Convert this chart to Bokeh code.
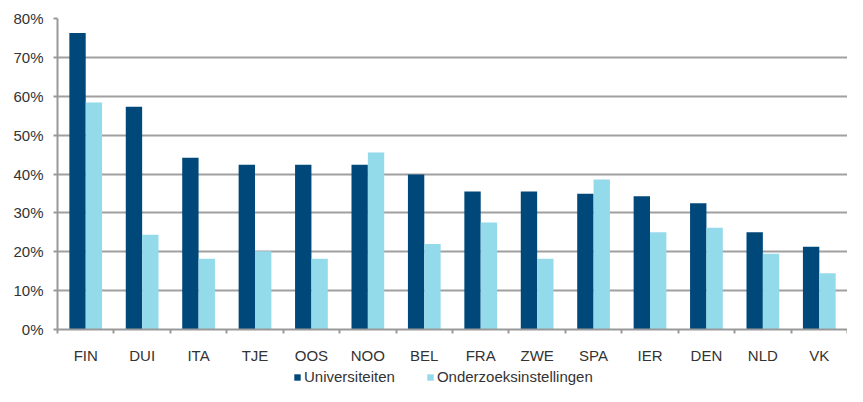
from bokeh.plotting import figure
from bokeh.layouts import column
from bokeh.models import FixedTicker, Legend, LegendItem, Range1d
from bokeh.embed import file_html
from bokeh.resources import INLINE

categories = ["FIN", "DUI", "ITA", "TJE", "OOS", "NOO", "BEL", "FRA", "ZWE", "SPA", "IER", "DEN", "NLD", "VK"]
universiteiten = [76.3, 57.3, 44.2, 42.4, 42.4, 42.4, 39.9, 35.5, 35.5, 34.9, 34.3, 32.5, 25.0, 21.3]
onderzoek = [58.4, 24.4, 18.2, 20.1, 18.2, 45.5, 22.0, 27.5, 18.2, 38.6, 25.0, 26.2, 19.5, 14.5]
y_ticks = [0, 10, 20, 30, 40, 50, 60, 70, 80]
series_names = ["Universiteiten", "Onderzoeksinstellingen"]

DARK = "#00487A"
LIGHT = "#93DAEA"
FONT = "Liberation Sans"
TXT = "#333333"

n = len(categories)
w = 0.29
centers = [i + 0.5 for i in range(n)]
x_u = [c - w / 2 for c in centers]
x_o = [c + w / 2 for c in centers]

p = figure(width=847, height=366, output_backend="svg", toolbar_location=None,
           x_range=Range1d(0, n), y_range=Range1d(0, 80),
           min_border_left=57, min_border_right=0, min_border_top=18, min_border_bottom=31)
p.outline_line_color = None
p.background_fill_color = "white"

p.vbar(x=x_u, top=universiteiten, width=w, fill_color=DARK, line_color=None)
p.vbar(x=x_o, top=onderzoek, width=w, fill_color=LIGHT, line_color=None)

# axes
p.xaxis.ticker = FixedTicker(ticks=centers, minor_ticks=list(range(n + 1)))
p.xaxis.major_label_overrides = {c: lab for c, lab in zip(centers, categories)}
p.xaxis.major_tick_out = 0
p.xaxis.major_tick_in = 0
p.xaxis.minor_tick_out = 4
p.xaxis.minor_tick_in = 0
p.xaxis.minor_tick_line_color = "#999999"
p.xaxis.minor_tick_line_width = 2
p.xaxis.axis_line_color = "#999999"
p.xaxis.axis_line_width = 2
p.xaxis.major_label_standoff = 13
p.xaxis.major_label_text_font = FONT
p.xaxis.major_label_text_font_size = "15px"
p.xaxis.major_label_text_color = TXT

p.yaxis.ticker = FixedTicker(ticks=y_ticks)
p.yaxis.major_label_overrides = {t: f"{t}%" for t in y_ticks}
p.yaxis.major_tick_out = 4
p.yaxis.major_tick_in = 0
p.yaxis.minor_tick_line_color = None
p.yaxis.major_tick_line_color = "#999999"
p.yaxis.major_tick_line_width = 2
p.yaxis.axis_line_color = "#999999"
p.yaxis.axis_line_width = 2
p.yaxis.major_label_standoff = 10
p.yaxis.major_label_text_font = FONT
p.yaxis.major_label_text_font_size = "15px"
p.yaxis.major_label_text_color = TXT

p.xgrid.grid_line_color = None
p.ygrid.grid_line_color = "#a0a0a0"
p.ygrid.grid_line_width = 2
p.ygrid.ticker = FixedTicker(ticks=y_ticks)

# legend strip (zero-size key glyphs, only their legend swatches show)
lg = figure(width=847, height=20, output_backend="svg", toolbar_location=None,
            x_axis_type=None, y_axis_type=None,
            x_range=Range1d(0, 1), y_range=Range1d(0, 1),
            min_border_left=0, min_border_right=0, min_border_top=0, min_border_bottom=0)
lg.outline_line_color = None
lg.xgrid.grid_line_color = None
lg.ygrid.grid_line_color = None
k1 = lg.quad(left=[0], right=[0], top=[0], bottom=[0], fill_color=DARK, line_color=None)
k2 = lg.quad(left=[0], right=[0], top=[0], bottom=[0], fill_color=LIGHT, line_color=None)
legend = Legend(items=[LegendItem(label=series_names[0], renderers=[k1]),
                       LegendItem(label=series_names[1], renderers=[k2])],
                orientation="horizontal", location=(236, 1),
                padding=0, margin=0, spacing=31, label_standoff=3,
                glyph_width=8, glyph_height=8, label_height=15,
                label_text_font=FONT, label_text_font_size="15px",
                label_text_color=TXT, background_fill_alpha=0,
                border_line_color=None)
lg.add_layout(legend, "center")

layout = column(p, lg, spacing=0)
open("out.html", "w").write(file_html(layout, INLINE))
